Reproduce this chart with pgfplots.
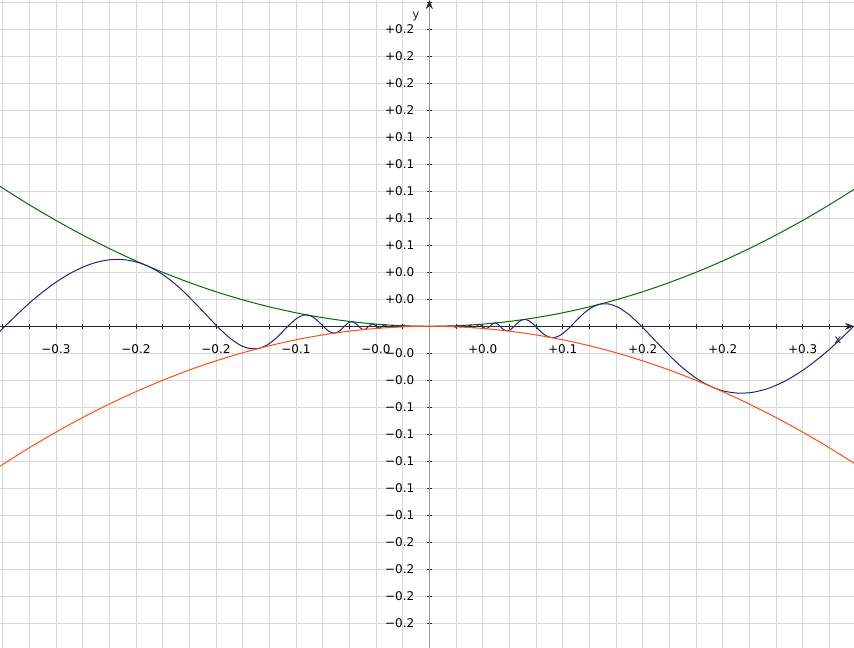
\documentclass[border=0pt]{standalone}
\usepackage{fontspec}
\setmainfont{DejaVu Sans}
\usepackage{pgfplots}
\pgfplotsset{compat=1.18}
\usetikzlibrary{arrows.meta}
\definecolor{cblue}{RGB}{36,36,128}
\definecolor{cgreen}{RGB}{0,110,0}
\definecolor{corange}{RGB}{255,80,20}
\definecolor{cgrid}{RGB}{216,216,216}
\definecolor{caxis}{RGB}{40,40,40}
\begin{document}
\begin{tikzpicture}
\begin{axis}[
  scale only axis, width=854pt, height=648pt,
  xmin=-0.3220, xmax=0.3185, ymin=-0.2383, ymax=0.2417,
  axis lines=middle,
  x axis line style={draw=caxis, line width=0.8pt, -{Stealth[length=9pt,width=7pt]}},
  y axis line style={draw=black!40, line width=1.6pt, -{Stealth[length=9pt,width=7pt,color=caxis]}},
  xtick={-0.32,-0.30,-0.28,-0.26,-0.24,-0.22,-0.20,-0.18,-0.16,-0.14,-0.12,-0.10,-0.08,-0.06,-0.04,-0.02,0,0.02,0.04,0.06,0.08,0.10,0.12,0.14,0.16,0.18,0.20,0.22,0.24,0.26,0.28,0.30},
  xticklabels={{},{},{−0.3},{},{},{−0.2},{},{},{−0.2},{},{},{−0.1},{},{},{−0.0},{},{},{},{+0.0},{},{},{+0.1},{},{},{+0.2},{},{},{+0.2},{},{},{+0.3},{}},
  ytick={-0.22,-0.20,-0.18,-0.16,-0.14,-0.12,-0.10,-0.08,-0.06,-0.04,-0.02,0,0.02,0.04,0.06,0.08,0.10,0.12,0.14,0.16,0.18,0.20,0.22,0.24},
  yticklabels={{−0.2},{−0.2},{−0.2},{−0.2},{−0.1},{−0.1},{−0.1},{−0.1},{−0.1},{−0.0},{−0.0},{},{+0.0},{+0.0},{+0.1},{+0.1},{+0.1},{+0.1},{+0.1},{+0.2},{+0.2},{+0.2},{+0.2},{}},
  grid=major, grid style={draw=cgrid, line width=0.8pt},
  tick align=center, major tick length=5pt,
  tick style={caxis, line width=0.8pt},
  every tick label/.append style={font=\fontsize{12}{14}\selectfont, text=black},
  xticklabel style={anchor=center, yshift=-20pt},
  yticklabel style={anchor=east, xshift=-9pt},
  xlabel={x}, ylabel={y},
  x label style={at={(rel axis cs:0.9813,0.4753)}, anchor=center, font=\fontsize{12}{14}\selectfont, text=caxis},
  y label style={at={(rel axis cs:0.4870,0.9740)}, anchor=center, rotate=0, font=\fontsize{12}{14}\selectfont, text=caxis},
]
\coordinate (bl) at (rel axis cs:0,0);
\coordinate (tr) at (rel axis cs:1,1);
\addplot[cgreen, line width=1pt, smooth] coordinates {
(-0.34,0.1156)(-0.32,0.1024)(-0.30,0.09)(-0.28,0.0784)(-0.26,0.0676)(-0.24,0.0576)(-0.22,0.0484)(-0.20,0.04)(-0.18,0.0324)(-0.16,0.0256)(-0.14,0.0196)(-0.12,0.0144)(-0.10,0.01)(-0.08,0.0064)(-0.06,0.0036)(-0.04,0.0016)(-0.02,0.0004)(0,0)
(0.02,0.0004)(0.04,0.0016)(0.06,0.0036)(0.08,0.0064)(0.10,0.01)(0.12,0.0144)(0.14,0.0196)(0.16,0.0256)(0.18,0.0324)(0.20,0.04)(0.22,0.0484)(0.24,0.0576)(0.26,0.0676)(0.28,0.0784)(0.30,0.09)(0.32,0.1024)(0.34,0.1156)};
\addplot[cblue, line width=1pt, smooth] coordinates {
(-0.322581,-0.004327)(-0.318310,0)(-0.299586,0.017510)(-0.282942,0.030636)(-0.268050,0.039918)(-0.254648,0.045853)(-0.242522,0.048905)(-0.231498,0.049512)(-0.221433,0.048090)(-0.212207,0.045032)(-0.203718,0.040704)(-0.195883,0.035449)(-0.188628,0.029584)(-0.181891,0.023395)(-0.169765,0.011029)(-0.159155,0)
(-0.149793,-0.008587)(-0.141471,-0.014152)(-0.134025,-0.016596)(-0.127324,-0.016211)(-0.121261,-0.013585)(-0.115749,-0.009474)(-0.110716,-0.004691)(-0.106103,0)
(-0.101859,0.003970)(-0.097941,0.006783)(-0.094314,0.008218)(-0.090946,0.008271)(-0.087810,0.007124)(-0.084883,0.005095)(-0.082145,0.002582)(-0.079577,0)
(-0.077166,-0.002279)(-0.074896,-0.003967)(-0.072757,-0.004891)(-0.070736,-0.005004)(-0.068824,-0.004376)(-0.067013,-0.003175)(-0.065294,-0.001631)(-0.063662,0)
(-0.062109,0.001476)(-0.060631,0.002599)(-0.059221,0.003240)(-0.057875,0.003349)(-0.056588,0.002958)(-0.055358,0.002167)(-0.054180,0.001123)(-0.053052,0)
(-0.051969,-0.001034)(-0.050930,-0.001834)(-0.049931,-0.002303)(-0.048971,-0.002398)(-0.048047,-0.002133)(-0.047157,-0.001572)(-0.046300,-0.000820)(-0.045473,0)
(-0.042441,0.001801)(-0.039789,0)(-0.037448,-0.001402)(-0.035368,0)(-0.033506,0.001123)(-0.031831,0)(-0.030315,-0.000919)(-0.028937,0)(-0.027679,0.000766)(-0.026526,0)(-0.025465,-0.000648)(-0.024485,0)(-0.023579,0.000556)(-0.022736,0)(-0.021952,-0.000482)(-0.021221,0)(-0.020536,0.000422)(-0.019894,0)
(0,0)
(0.019894,0)(0.020536,-0.000422)(0.021221,0)(0.021952,0.000482)(0.022736,0)(0.023579,-0.000556)(0.024485,0)(0.025465,0.000648)(0.026526,0)(0.027679,-0.000766)(0.028937,0)(0.030315,0.000919)(0.031831,0)(0.033506,-0.001123)(0.035368,0)(0.037448,0.001402)(0.039789,0)(0.042441,-0.001801)(0.045473,0)
(0.046300,0.000820)(0.047157,0.001572)(0.048047,0.002133)(0.048971,0.002398)(0.049931,0.002303)(0.050930,0.001834)(0.051969,0.001034)(0.053052,0)
(0.054180,-0.001123)(0.055358,-0.002167)(0.056588,-0.002958)(0.057875,-0.003349)(0.059221,-0.003240)(0.060631,-0.002599)(0.062109,-0.001476)(0.063662,0)
(0.065294,0.001631)(0.067013,0.003175)(0.068824,0.004376)(0.070736,0.005004)(0.072757,0.004891)(0.074896,0.003967)(0.077166,0.002279)(0.079577,0)
(0.082145,-0.002582)(0.084883,-0.005095)(0.087810,-0.007124)(0.090946,-0.008271)(0.094314,-0.008218)(0.097941,-0.006783)(0.101859,-0.003970)(0.106103,0)
(0.110716,0.004691)(0.115749,0.009474)(0.121261,0.013585)(0.127324,0.016211)(0.134025,0.016596)(0.141471,0.014152)(0.149793,0.008587)(0.159155,0)
(0.169765,-0.011029)(0.181891,-0.023395)(0.188628,-0.029584)(0.195883,-0.035449)(0.203718,-0.040704)(0.212207,-0.045032)(0.221433,-0.048090)(0.231498,-0.049512)(0.242522,-0.048905)(0.254648,-0.045853)(0.268050,-0.039918)(0.282942,-0.030636)(0.299586,-0.017510)(0.318310,0)(0.322581,0.004327)};
\addplot[corange, line width=1pt, smooth] coordinates {
(-0.34,-0.1156)(-0.32,-0.1024)(-0.30,-0.09)(-0.28,-0.0784)(-0.26,-0.0676)(-0.24,-0.0576)(-0.22,-0.0484)(-0.20,-0.04)(-0.18,-0.0324)(-0.16,-0.0256)(-0.14,-0.0196)(-0.12,-0.0144)(-0.10,-0.01)(-0.08,-0.0064)(-0.06,-0.0036)(-0.04,-0.0016)(-0.02,-0.0004)(0,0)
(0.02,-0.0004)(0.04,-0.0016)(0.06,-0.0036)(0.08,-0.0064)(0.10,-0.01)(0.12,-0.0144)(0.14,-0.0196)(0.16,-0.0256)(0.18,-0.0324)(0.20,-0.04)(0.22,-0.0484)(0.24,-0.0576)(0.26,-0.0676)(0.28,-0.0784)(0.30,-0.09)(0.32,-0.1024)(0.34,-0.1156)};
\end{axis}
\pgfresetboundingbox
\path[use as bounding box] (bl) rectangle (tr);
\end{tikzpicture}
\end{document}
